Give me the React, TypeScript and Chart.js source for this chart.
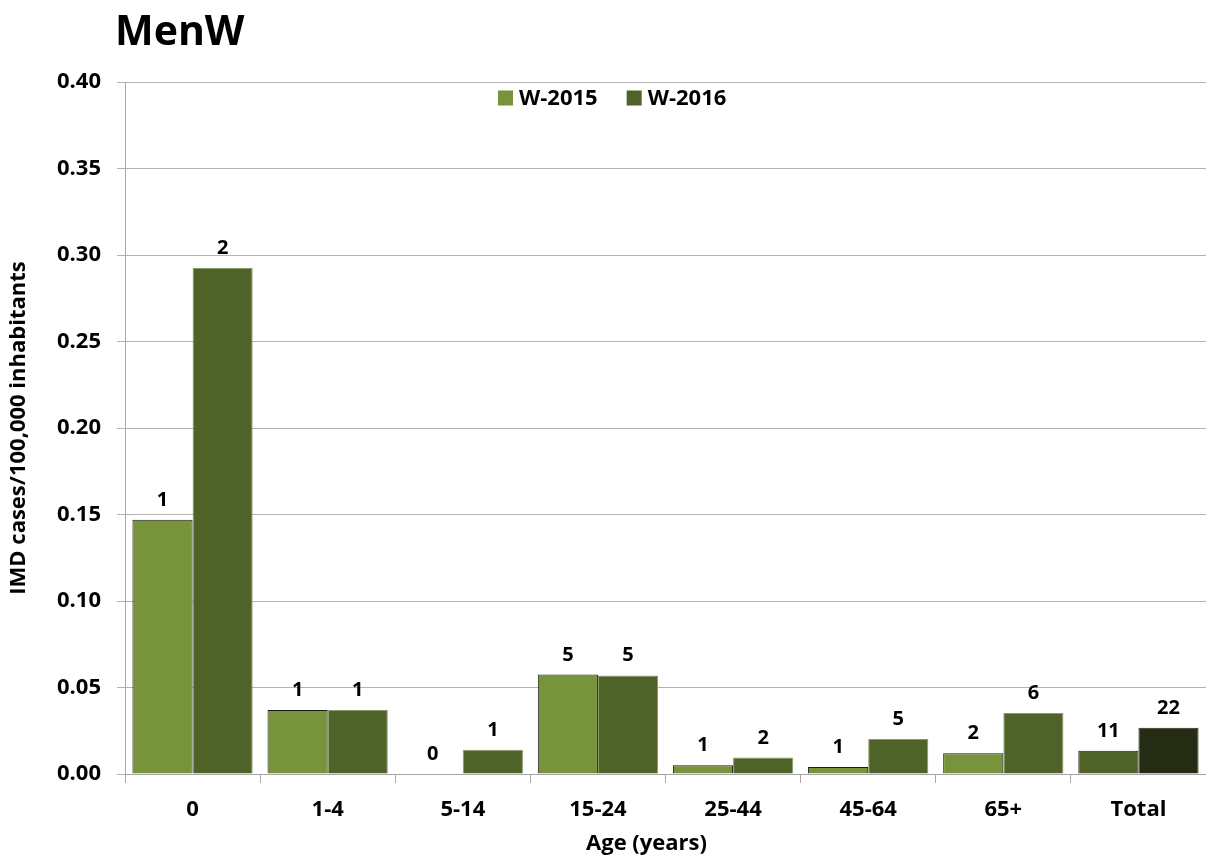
import React, { useEffect, useRef } from "react";
import { Chart, registerables } from "chart.js";

Chart.register(...registerables);

const categories = ["0", "1-4", "5-14", "15-24", "25-44", "45-64", "65+", "Total"];
const seriesNames = ["W-2015", "W-2016"];
const rates2015 = [0.147, 0.037, 0, 0.0575, 0.005, 0.004, 0.012, 0.0135];
const rates2016 = [0.2925, 0.037, 0.014, 0.057, 0.0095, 0.0203, 0.0353, 0.0268];
const counts2015 = ["1", "1", "0", "5", "1", "1", "2", "11"];
const counts2016 = ["2", "1", "1", "5", "2", "5", "6", "22"];
const yTicks = [0, 0.05, 0.1, 0.15, 0.2, 0.25, 0.3, 0.35, 0.4];
const xTitle = "Age (years)";
const yTitle = "IMD cases/100,000 inhabitants";
const chartTitle = "MenW";

const FONT = "'Open Sans', Lato, sans-serif";
const light = "#77933c";
const dark = "#4f6228";
const darkest = "#242c13";

export default function App() {
  const ref = useRef<HTMLCanvasElement | null>(null);
  useEffect(() => {
    document.body.style.margin = "0";
    const canvas = ref.current;
    if (!canvas) return;
    const counts = [counts2015, counts2016];

    const labelsPlugin = {
      id: "countLabels",
      afterDatasetsDraw(chart: any) {
        const ctx = chart.ctx;
        ctx.save();
        ctx.font = `bold 20px ${FONT}`;
        ctx.fillStyle = "#000";
        ctx.textAlign = "center";
        ctx.textBaseline = "alphabetic";
        chart.data.datasets.forEach((ds: any, di: number) => {
          const meta = chart.getDatasetMeta(di);
          meta.data.forEach((el: any, i: number) => {
            ctx.fillText(counts[di][i], el.x, el.y - 14);
          });
        });
        ctx.restore();
      },
    };

    const decorPlugin = {
      id: "decor",
      afterDraw(chart: any) {
        const ctx = chart.ctx;
        const area = chart.chartArea;
        ctx.save();
        ctx.font = `bold 41px ${FONT}`;
        ctx.fillStyle = "#000";
        ctx.textAlign = "left";
        ctx.textBaseline = "alphabetic";
        ctx.fillText(chartTitle, 115, 45);
        // x axis title
        ctx.font = `bold 22px ${FONT}`;
        ctx.textAlign = "center";
        ctx.textBaseline = "middle";
        ctx.fillText(xTitle, (area.left + area.right) / 2 - 19, chart.height - 14);
        // legend inside plot area
        ctx.textAlign = "left";
        const colors = [light, dark];
        let x = 498;
        const y = area.top + 16;
        seriesNames.forEach((name, i) => {
          ctx.fillStyle = colors[i];
          ctx.fillRect(x, y - 7.5, 15, 15);
          ctx.fillStyle = "#000";
          ctx.fillText(name, x + 21, y + 1);
          x += 21 + ctx.measureText(name).width + 29;
        });
        ctx.restore();
      },
    };

    const chart = new Chart(canvas, {
      type: "bar",
      data: {
        labels: categories,
        datasets: [
          {
            label: seriesNames[0],
            data: rates2015,
            backgroundColor: categories.map((c) => (c === "Total" ? dark : light)),
            borderColor: "#1a1a1a",
            borderWidth: 1,
            categoryPercentage: 0.89,
            barPercentage: 1,
          },
          {
            label: seriesNames[1],
            data: rates2016,
            backgroundColor: categories.map((c) => (c === "Total" ? darkest : dark)),
            borderColor: categories.map((c) => (c === "Total" ? darkest : "#8a9a6a")),
            borderWidth: 1,
            categoryPercentage: 0.89,
            barPercentage: 1,
          },
        ],
      },
      options: {
        animation: false,
        responsive: false,
        maintainAspectRatio: false,
        layout: { padding: { top: 82, right: 0, left: 0, bottom: 0 } },
        plugins: {
          legend: { display: false },
          tooltip: { enabled: false },
          title: { display: false },
        },
        scales: {
          x: {
            offset: true,
            grid: {
              offset: true,
              drawOnChartArea: false,
              drawTicks: true,
              tickLength: 9,
              color: "#a6a6a6",
            },
            border: { color: "#a6a6a6", width: 1 },
            ticks: {
              color: "#000",
              font: { family: FONT, size: 22, weight: "bold" },
              padding: 14,
            },
            title: { display: false },
            afterFit(scale: any) {
              scale.height = 84;
            },
          },
          y: {
            min: 0,
            max: 0.4,
            afterBuildTicks(scale: any) {
              scale.ticks = yTicks.map((v) => ({ value: v }));
            },
            grid: {
              color: "#b3b3b3",
              tickLength: 8,
              drawTicks: true,
            },
            border: { color: "#a6a6a6", width: 1 },
            ticks: {
              color: "#000",
              font: { family: FONT, size: 22, weight: "bold" },
              padding: 16,
              callback: (v: any) => Number(v).toFixed(2),
            },
            title: {
              display: true,
              text: yTitle,
              color: "#000",
              font: { family: FONT, size: 22, weight: "bold" },
              padding: { top: 6, bottom: 0 },
            },
            afterFit(scale: any) {
              scale.width = 125;
            },
          },
        },
      } as any,
      plugins: [labelsPlugin, decorPlugin],
    });
    return () => chart.destroy();
  }, []);

  return (
    <div style={{ width: 1206, height: 858 }}>
      <canvas ref={ref} width={1206} height={858} style={{ display: "block" }} />
    </div>
  );
}
